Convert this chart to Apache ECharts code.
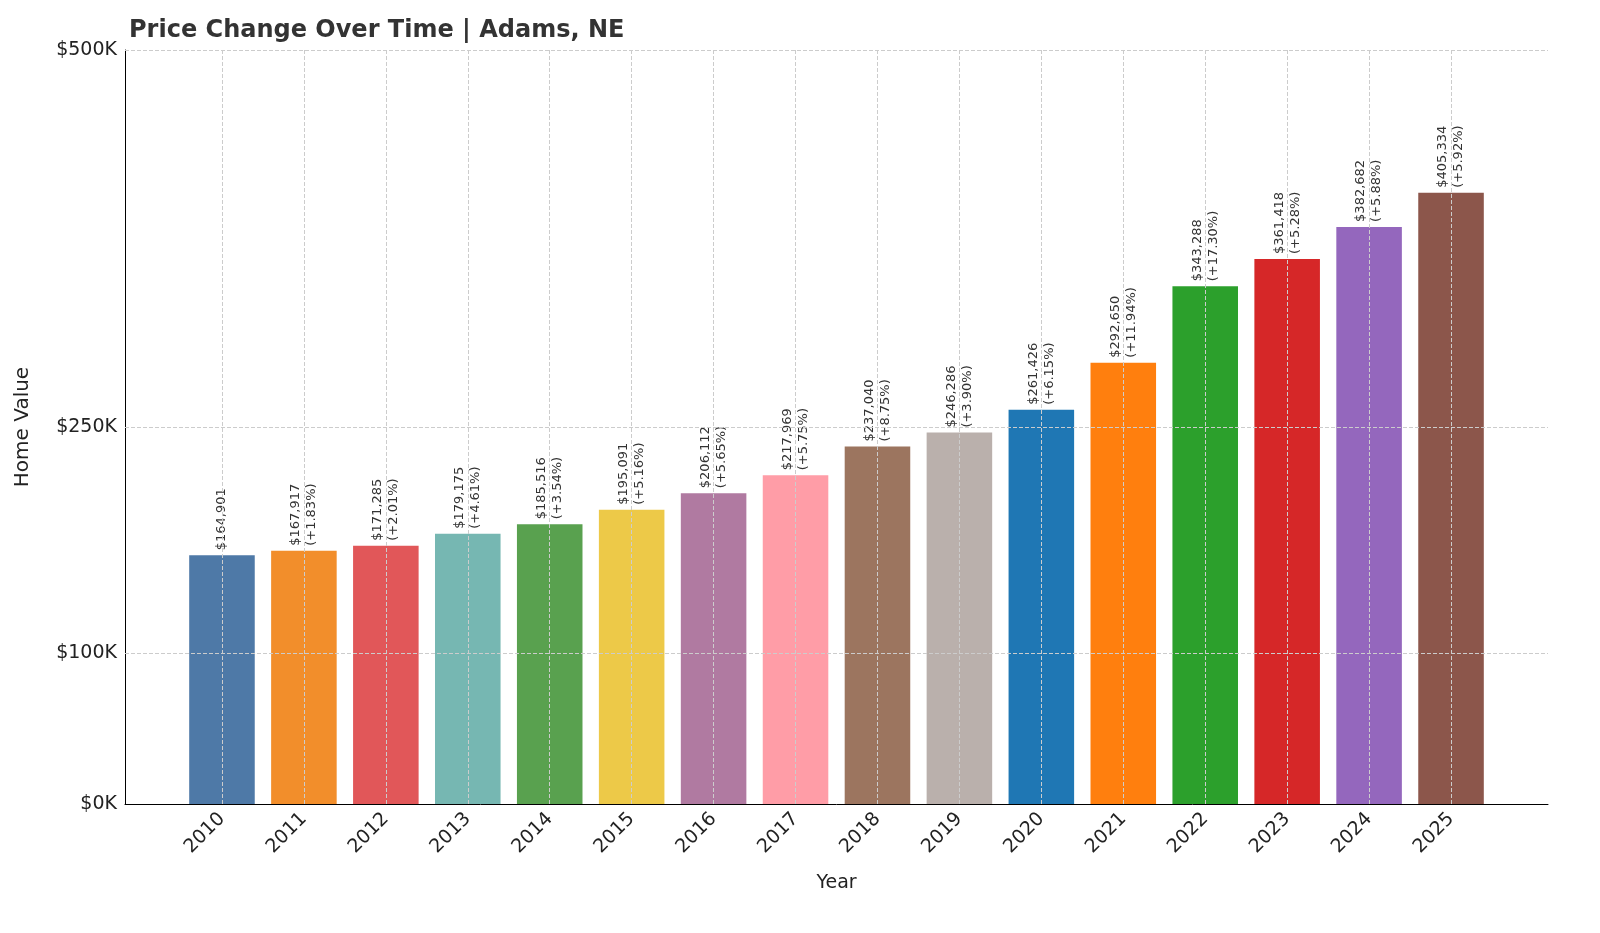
<!DOCTYPE html>
<html>
<head>
<meta charset="utf-8">
<script src="https://cdn.jsdelivr.net/npm/echarts@6/dist/echarts.min.js"></script>
<style>html,body{margin:0;padding:0;background:#fff}#main{width:1600px;height:933px}</style>
</head>
<body>
<div id="main"></div>
<script>
var years = ['2010','2011','2012','2013','2014','2015','2016','2017','2018','2019','2020','2021','2022','2023','2024','2025'];
var values = [164901,167917,171285,179175,185516,195091,206112,217969,237040,246286,261426,292650,343288,361418,382682,405334];
var changes = ['','+1.83%','+2.01%','+4.61%','+3.54%','+5.16%','+5.65%','+5.75%','+8.75%','+3.90%','+6.15%','+11.94%','+17.30%','+5.28%','+5.88%','+5.92%'];
var colors = ['#4e79a7','#f28e2b','#e15759','#76b7b2','#59a14f','#edc948','#b07aa1','#ff9da7','#9c755f','#bab0ac','#1f77b4','#ff7f0e','#2ca02c','#d62728','#9467bd','#8c564b'];
var yTicks = [0, 100000, 250000, 500000];

var chart = echarts.init(document.getElementById('main'));
var font = 'DejaVu Sans';
var dashed = {type: 'dashed', color: '#ccc', width: 1};
chart.setOption({
    animation: false,
    textStyle: {fontFamily: font},
    title: {
        text: 'Price Change Over Time | Adams, NE',
        left: 124, top: 14,
        textStyle: {fontSize: 24, fontWeight: 'bold', color: '#333', fontFamily: font}
    },
    grid: [
        {left: 125, right: 52, top: 50, bottom: 129, outerBoundsMode: 'none'},
        {left: 181, right: 108, top: 50, bottom: 129, outerBoundsMode: 'none'}
    ],
    xAxis: [{
        gridIndex: 0, type: 'value', min: 0, max: 1,
        axisLine: {show: true, onZero: false, lineStyle: {color: '#000'}},
        axisTick: {show: false}, axisLabel: {show: false}, splitLine: {show: false}
    }, {
        gridIndex: 1, type: 'category', data: years,
        name: 'Year', nameLocation: 'middle', nameGap: 70,
        nameTextStyle: {fontSize: 19, color: '#222'},
        axisLine: {show: false},
        axisTick: {length: 6, alignWithLabel: true, lineStyle: {color: '#000'}},
        axisLabel: {rotate: 45, fontSize: 19, color: '#222', margin: 12},
        splitLine: {show: false}
    }],
    yAxis: [{
        gridIndex: 0, type: 'value', min: 0, max: 500000, interval: 50000,
        name: 'Home Value', nameLocation: 'middle', nameGap: 92,
        nameTextStyle: {fontSize: 20, color: '#222'},
        axisLine: {show: true, lineStyle: {color: '#000'}},
        axisTick: {show: false},
        splitLine: {show: false},
        axisLabel: {
            fontSize: 19, color: '#222', margin: 8,
            formatter: function (v) {
                return yTicks.indexOf(v) >= 0 ? '$' + (v / 1000) + 'K' : '';
            }
        }
    }, {
        gridIndex: 1, type: 'value', min: 0, max: 500000, show: false
    }],
    series: [{
        type: 'line', xAxisIndex: 0, yAxisIndex: 0,
        data: [[0, 0]], showSymbol: false, silent: true, lineStyle: {opacity: 0},
        markLine: {
            silent: true, symbol: 'none', label: {show: false}, lineStyle: dashed,
            data: yTicks.slice(1).map(function (v) { return {yAxis: v}; })
        },
        z: 1
    }, {
        type: 'bar', xAxisIndex: 1, yAxisIndex: 1,
        barWidth: '80%',
        data: values.map(function (v, i) {
            return {value: v, itemStyle: {color: colors[i]}};
        }),
        label: {
            show: true, position: 'top', rotate: 90, align: 'left', verticalAlign: 'middle',
            distance: 5, fontSize: 13, color: '#333', lineHeight: 16,
            formatter: function (p) {
                var s = '$' + p.value.toLocaleString('en-US');
                return changes[p.dataIndex] ? s + '\n(' + changes[p.dataIndex] + ')' : s;
            }
        },
        markLine: {
            silent: true, symbol: 'none', label: {show: false}, lineStyle: dashed,
            data: years.map(function (y) { return {xAxis: y}; })
        },
        z: 3
    }]
});
</script>
</body>
</html>
